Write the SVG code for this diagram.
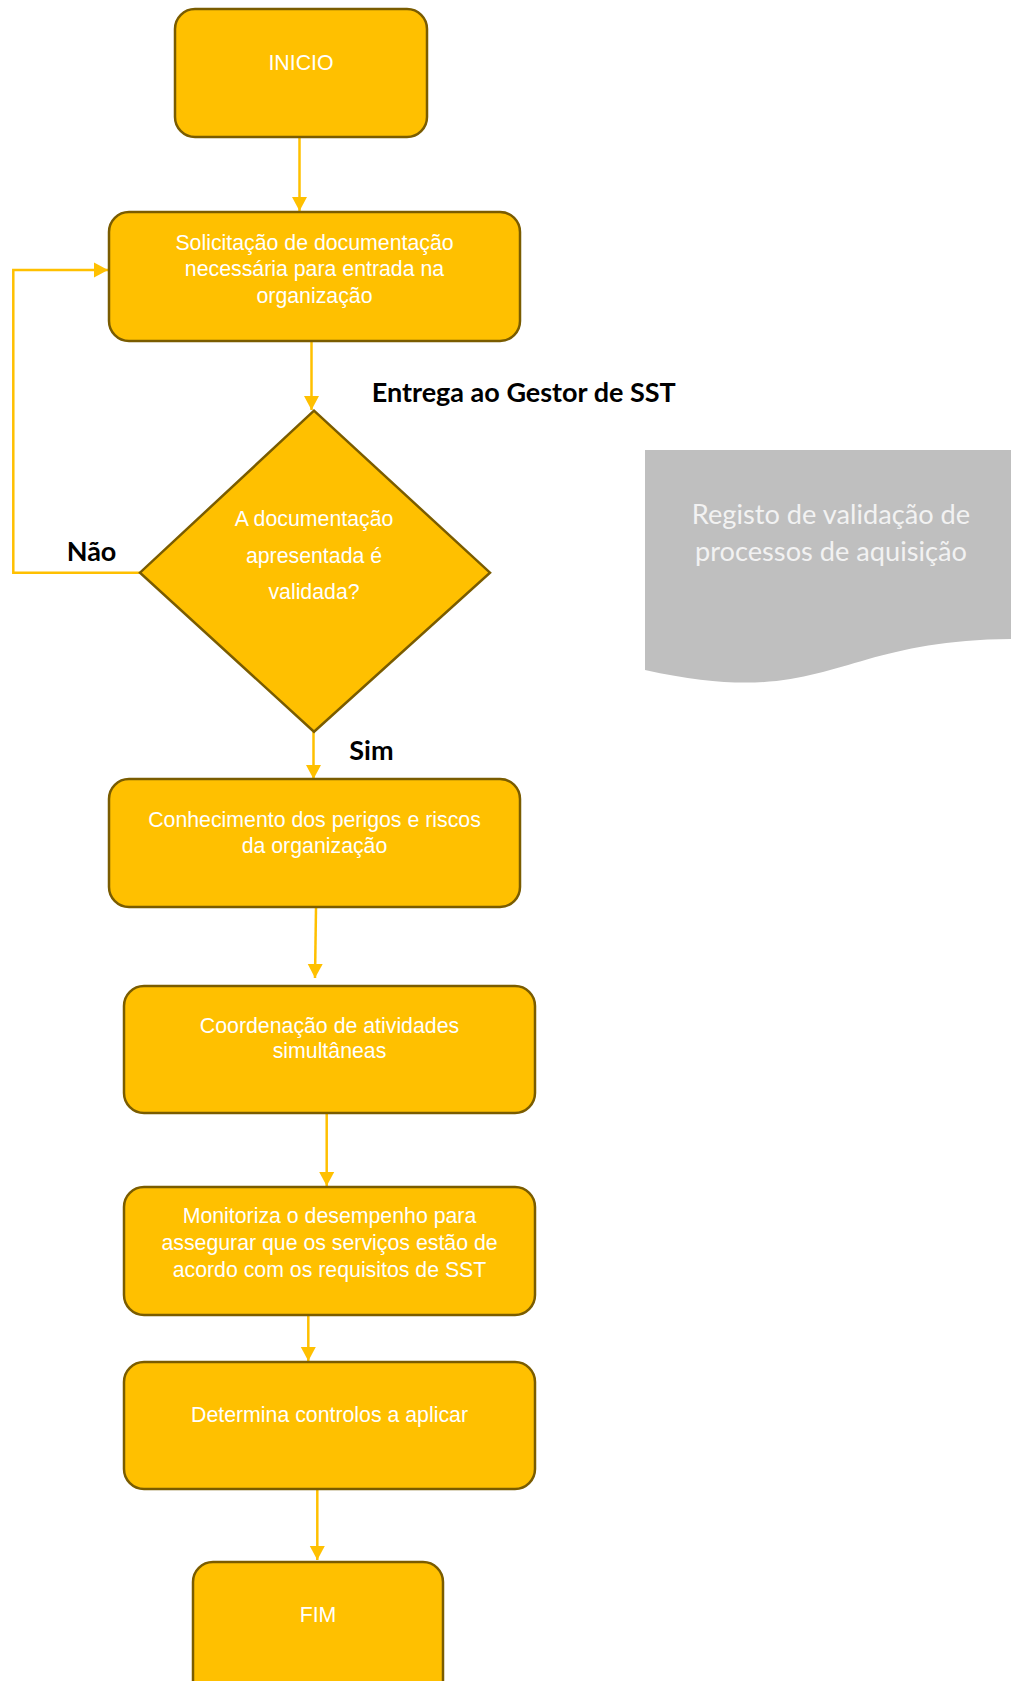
<svg xmlns="http://www.w3.org/2000/svg" width="1011" height="1681" viewBox="0 0 1011 1681">
<defs>
<style>
.box{fill:#ffc000;stroke:#7a5c00;stroke-width:2.5}
.t{font-family:"Liberation Sans",Arial,sans-serif;font-size:21.3px;fill:#ffffff;text-anchor:middle}
.lbl{font-family:Lato,"Open Sans",sans-serif;font-weight:bold;font-size:27px;fill:#000000}
.doc{font-family:Lato,"Open Sans",sans-serif;font-size:27.2px;fill:#f2f2f2;text-anchor:middle}
.c{fill:none;stroke:#ffc000;stroke-width:2.5}
</style>
<marker id="ah" markerUnits="userSpaceOnUse" markerWidth="15" markerHeight="16" refX="14" refY="8" orient="auto">
<path d="M0,0.5 L14,8 L0,15.5 Z" fill="#ffc000"/>
</marker>
</defs>
<rect width="1011" height="1681" fill="#ffffff"/>

<g id="connectors">
<line class="c" x1="299.5" y1="138" x2="299.5" y2="211" marker-end="url(#ah)"/>
<line class="c" x1="311.5" y1="342" x2="311.5" y2="410" marker-end="url(#ah)"/>
<polyline class="c" points="140,572.7 13.3,572.7 13.3,270 108,270" marker-end="url(#ah)"/>
<line class="c" x1="313.5" y1="732" x2="313.5" y2="779" marker-end="url(#ah)"/>
<line class="c" x1="316" y1="908" x2="315" y2="978" marker-end="url(#ah)"/>
<line class="c" x1="326.7" y1="1114" x2="326.7" y2="1186" marker-end="url(#ah)"/>
<line class="c" x1="308.3" y1="1316" x2="308.3" y2="1361" marker-end="url(#ah)"/>
<line class="c" x1="317.3" y1="1490" x2="317.3" y2="1560" marker-end="url(#ah)"/>
</g>

<g id="inicio">
<rect class="box" x="175" y="9" width="252" height="128" rx="20"/>
<text class="t" x="301" y="70">INICIO</text>
</g>

<g id="solicitacao">
<rect class="box" x="109" y="212" width="411" height="129" rx="20"/>
<text class="t" x="314.5" y="249.5">Solicitação de documentação</text>
<text class="t" x="314.5" y="276">necessária para entrada na</text>
<text class="t" x="314.5" y="302.5">organização</text>
</g>

<g id="decisao">
<polygon class="box" points="314,410.7 490,572.7 314,731.7 140,572.7"/>
<text class="t" x="314" y="526">A documentação</text>
<text class="t" x="314" y="562.7">apresentada é</text>
<text class="t" x="314" y="599.3">validada?</text>
</g>

<g id="conhecimento">
<rect class="box" x="109" y="779" width="411" height="128" rx="20"/>
<text class="t" x="314.5" y="826.7">Conhecimento dos perigos e riscos</text>
<text class="t" x="314.5" y="852.7">da organização</text>
</g>

<g id="coordenacao">
<rect class="box" x="124" y="986" width="411" height="127" rx="20"/>
<text class="t" x="329.5" y="1032.7">Coordenação de atividades</text>
<text class="t" x="329.5" y="1058.3">simultâneas</text>
</g>

<g id="monitoriza">
<rect class="box" x="124" y="1187" width="411" height="128" rx="20"/>
<text class="t" x="329.5" y="1223.3">Monitoriza o desempenho para</text>
<text class="t" x="329.5" y="1250">assegurar que os serviços estão de</text>
<text class="t" x="329.5" y="1276.7">acordo com os requisitos de SST</text>
</g>

<g id="determina">
<rect class="box" x="124" y="1362" width="411" height="127" rx="20"/>
<text class="t" x="329.5" y="1421.7">Determina controlos a aplicar</text>
</g>

<g id="fim">
<rect class="box" x="193" y="1562" width="250" height="140" rx="20"/>
<text class="t" x="318" y="1621.7">FIM</text>
</g>

<g id="registo">
<path d="M645,450 H1017 V639 C831,639 831,711 645,670 Z" fill="#bfbfbf"/>
<text class="doc" x="831" y="523.5">Registo de validação de</text>
<text class="doc" x="831" y="561">processos de aquisição</text>
</g>

<g id="labels">
<text class="lbl" x="371.7" y="401.7">Entrega ao Gestor de SST</text>
<text class="lbl" x="66.7" y="560.5">Não</text>
<text class="lbl" x="349.3" y="759.5">Sim</text>
</g>
</svg>
